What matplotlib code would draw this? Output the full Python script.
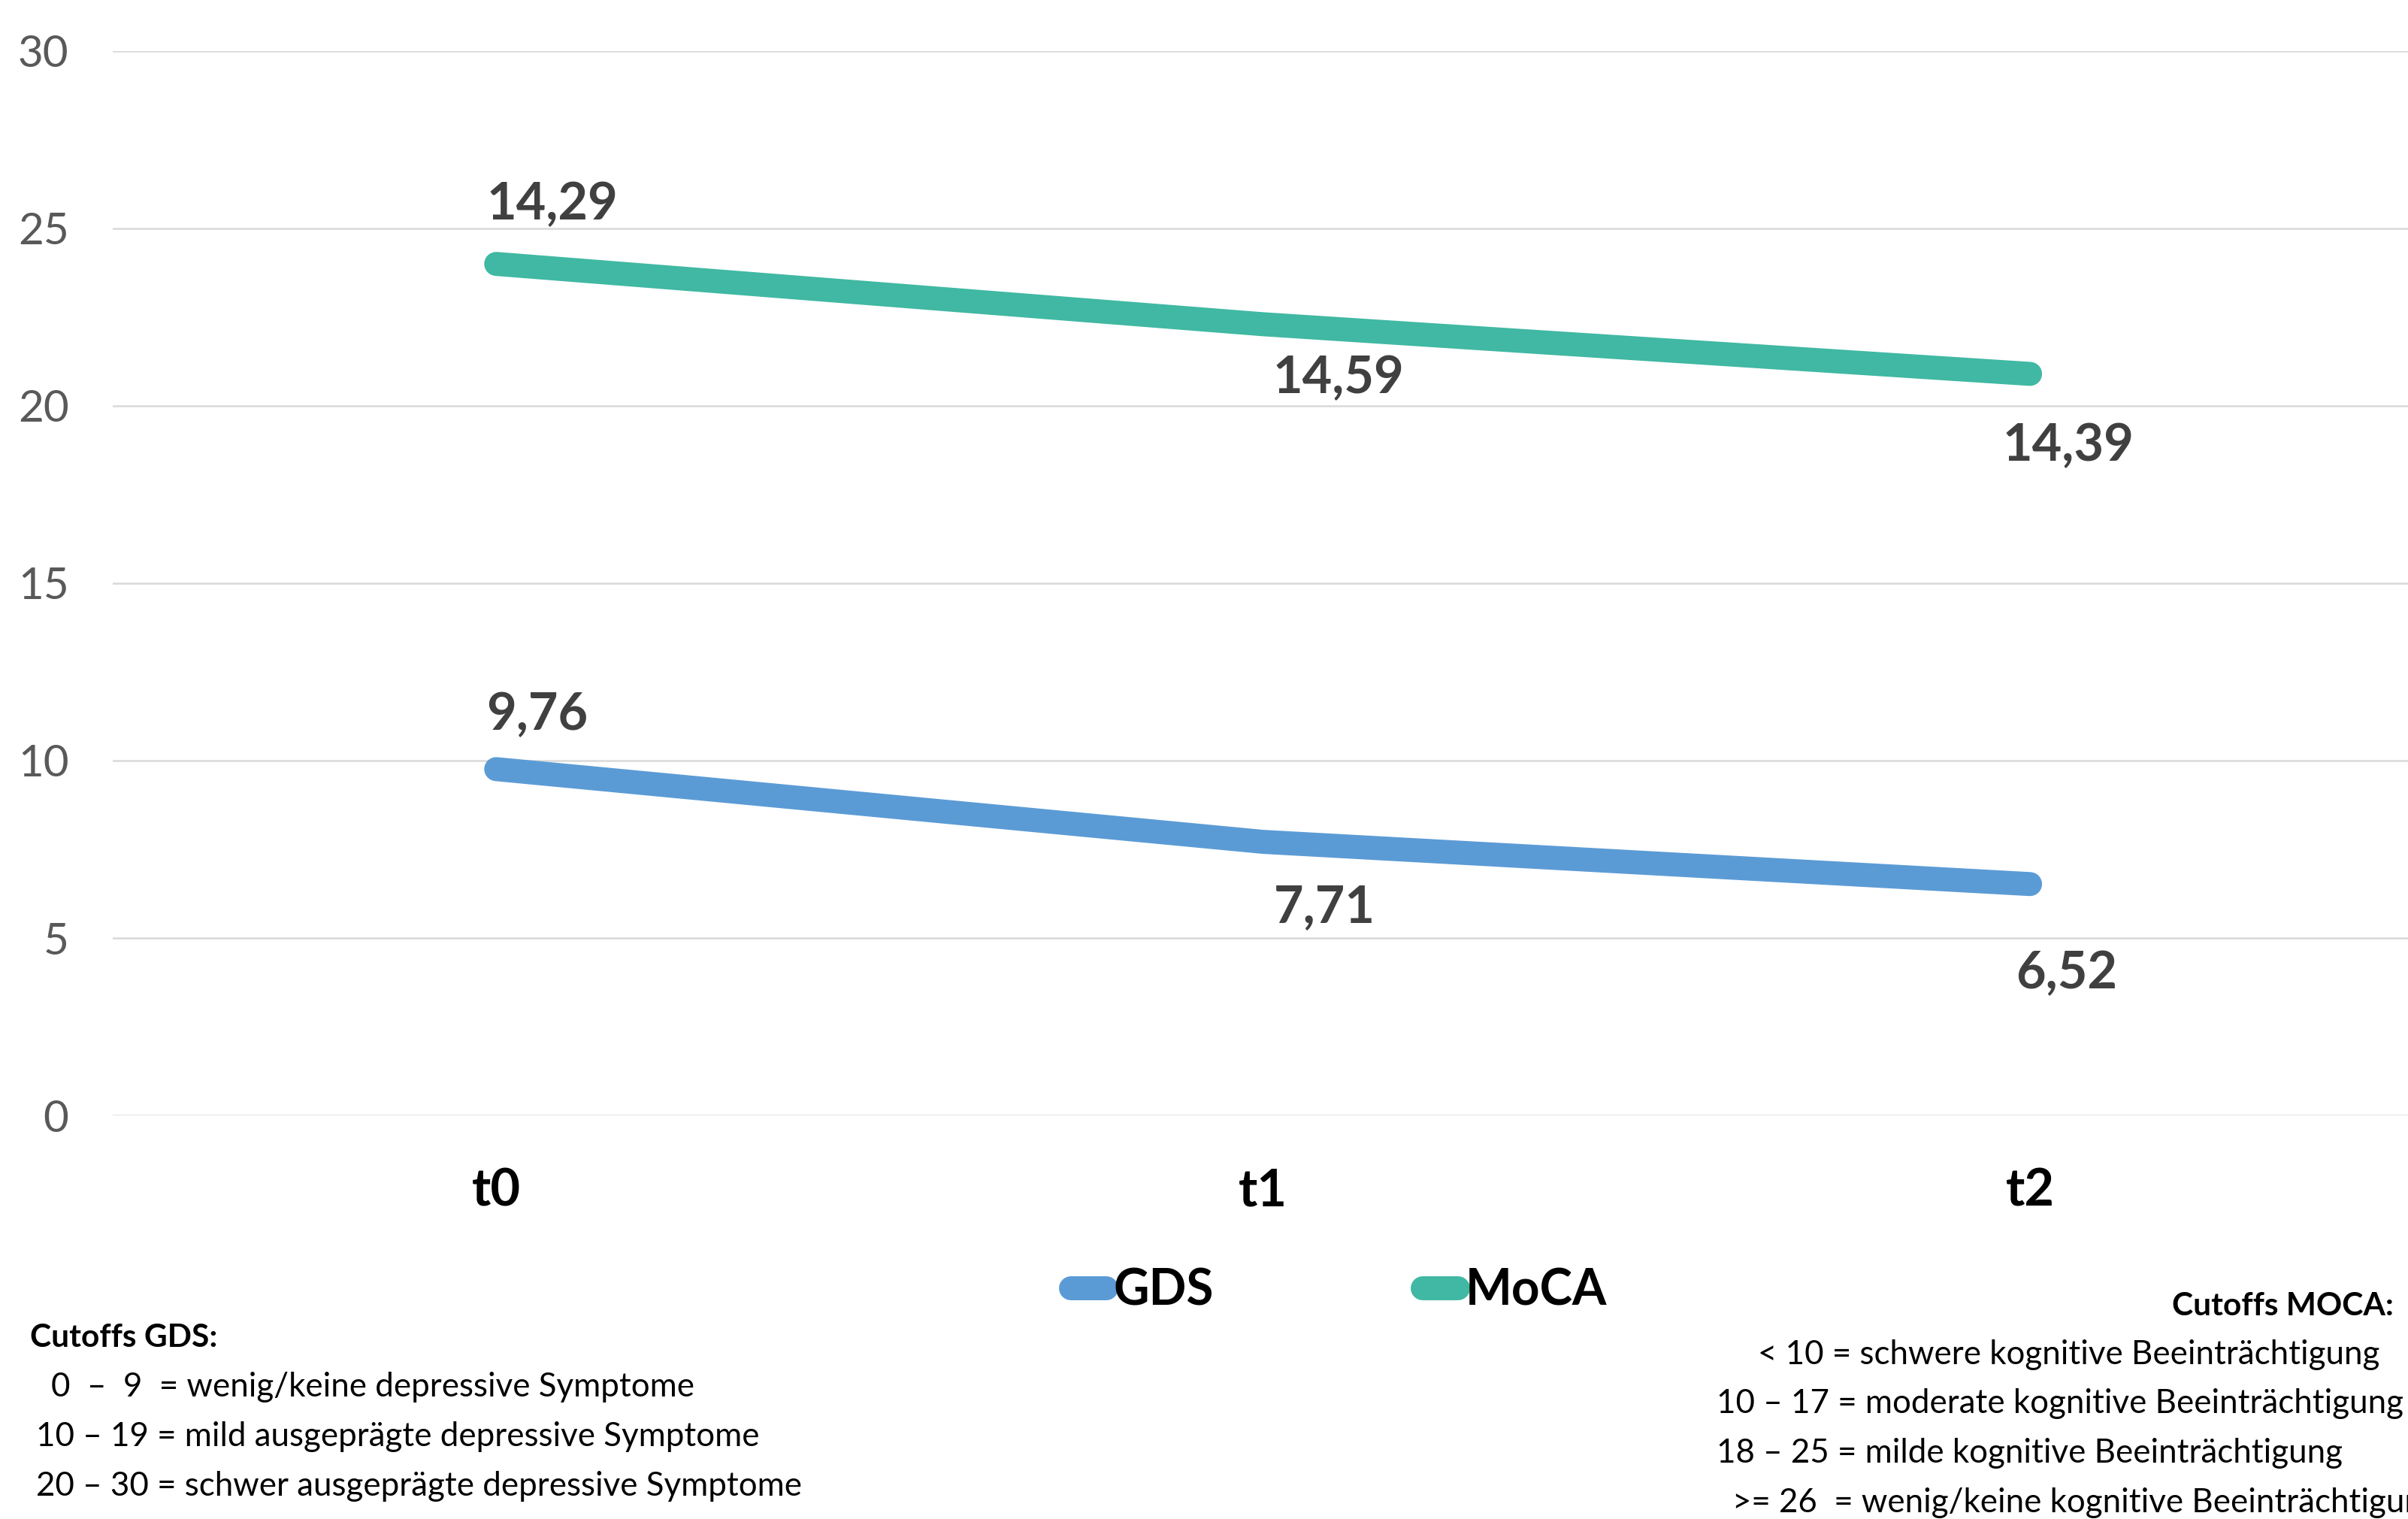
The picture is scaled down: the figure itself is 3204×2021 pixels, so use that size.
import numpy as np
import matplotlib
matplotlib.use("Agg")
import matplotlib.pyplot as plt

plt.rcParams['font.family'] = ['Lato', 'DejaVu Sans']

# Data
categories = ['t0', 't1', 't2']
gds = [9.76, 7.71, 6.52]
moca = [24.0, 22.3, 20.9]
gds_labels = ['9,76', '7,71', '6,52']
moca_labels = ['14,29', '14,59', '14,39']

gds_cutoffs = ['0  –  9  = wenig/keine depressive Symptome',
               '10 – 19 = mild ausgeprägte depressive Symptome',
               '20 – 30 = schwer ausgeprägte depressive Symptome']
moca_cutoffs = ['< 10 = schwere kognitive Beeinträchtigung',
                '10 – 17 = moderate kognitive Beeinträchtigung',
                '18 – 25 = milde kognitive Beeinträchtigung',
                '>= 26  = wenig/keine kognitive Beeinträchtigung']

# Colours
c_gds = '#5B9BD5'
c_moca = '#40B8A3'

W, H = 3204, 2021
fig = plt.figure(figsize=(W / 200, H / 200), dpi=200)
ax = fig.add_axes([0.0468, 0.2657, 0.9555, 0.7007])

x = np.arange(len(categories))
ax.plot(x, gds, color=c_gds, lw=11.5, solid_capstyle='round', label='GDS')
ax.plot(x, moca, color=c_moca, lw=11.5, solid_capstyle='round', label='MoCA')

ax.set_xlim(-0.5, 2.5)
ax.set_ylim(0, 30)
ax.set_yticks(range(0, 31, 5))
ax.set_xticks(x)
ax.set_xticklabels(categories, fontweight='bold', fontsize=24.6, color='black')
ax.grid(axis='y', color='#D9D9D9', lw=0.9)
ax.set_axisbelow(True)
for s in ax.spines.values():
    s.set_visible(False)
ax.tick_params(axis='y', length=0, pad=21, labelsize=21, labelcolor='#595959')
ax.tick_params(axis='x', length=0, pad=25)

# data labels (pixel offsets as placed in the original)
gds_off = [(55, 52), (82, -107), (48, -139)]
moca_off = [(75, 59), (100, -92), (51, -116)]
for i in range(len(categories)):
    ax.annotate(gds_labels[i], (x[i], gds[i]), xytext=gds_off[i],
                textcoords='offset pixels', ha='center', va='baseline',
                fontsize=24.6, fontweight='bold', color='#404040')
    ax.annotate(moca_labels[i], (x[i], moca[i]), xytext=moca_off[i],
                textcoords='offset pixels', ha='center', va='baseline',
                fontsize=24.6, fontweight='bold', color='#404040')

fig.legend(loc='center', bbox_to_anchor=(0.556, 0.150), ncol=2, frameon=False,
           prop={'weight': 'bold', 'size': 23.6}, handlelength=0.72,
           handletextpad=0.15, columnspacing=4.24)


def ftext(px, py, s, size=15.8, **kw):
    fig.text(px / W, 1 - py / H, s, va='baseline', fontsize=size, color='black', **kw)


# cutoff notes
ftext(40, 1792, 'Cutoffs GDS:', size=15.3, fontweight='bold')
gds_x = [68, 48, 48]
for i, line in enumerate(gds_cutoffs):
    ftext(gds_x[i], 1858 + 66 * i, line)

ftext(3185, 1750, 'Cutoffs MOCA:', size=15.3, fontweight='bold', ha='right')
moca_x = [2339, 2284, 2284, 2305]
for i, line in enumerate(moca_cutoffs):
    ftext(moca_x[i], 1815 + 65.5 * i, line)

fig.savefig('out.png', dpi=200)
